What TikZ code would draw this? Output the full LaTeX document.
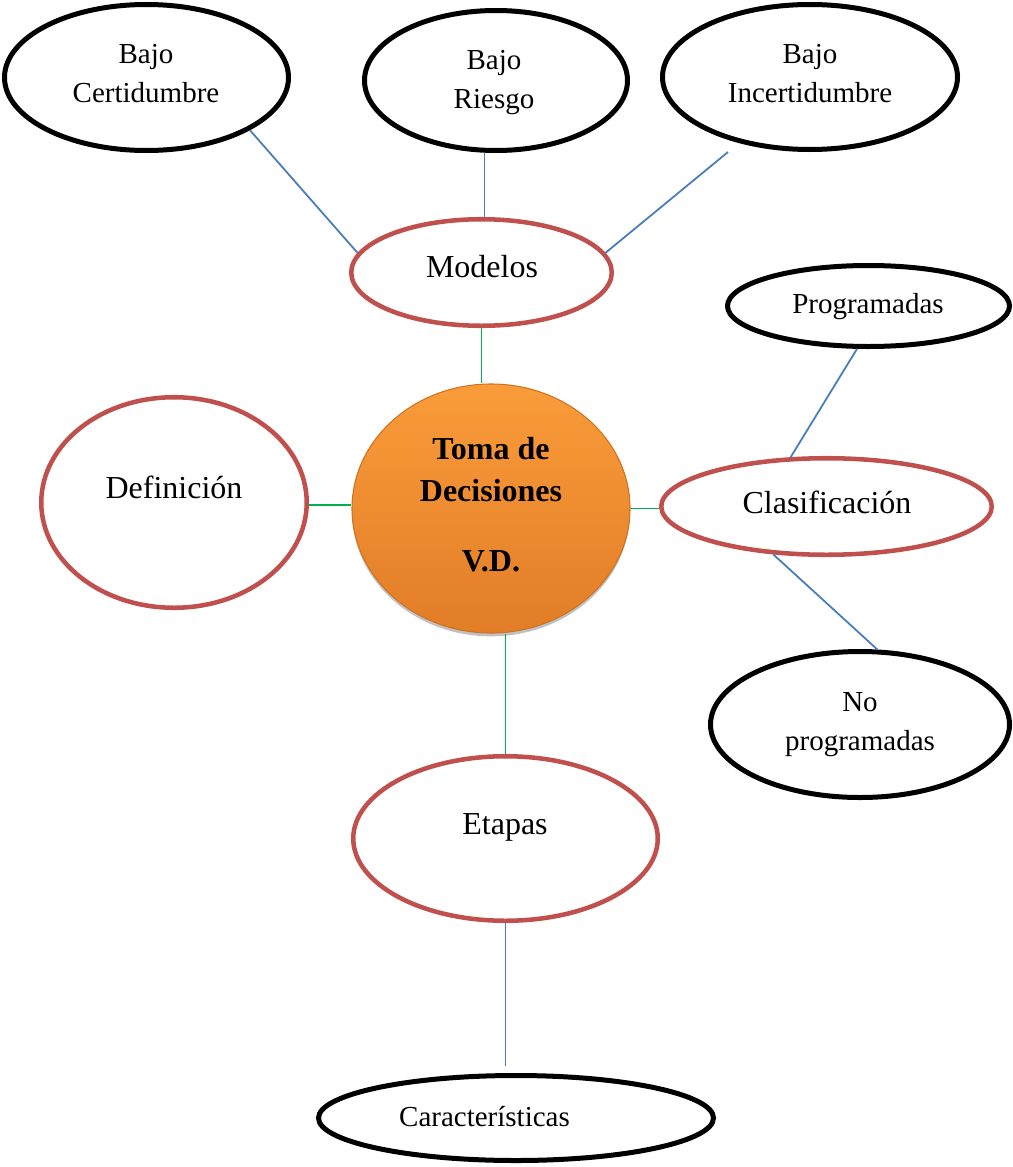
\documentclass[tikz,border=0pt]{standalone}
\usepackage{fontspec}
\setmainfont{Liberation Serif}
\usetikzlibrary{shapes.geometric,shadows}

\definecolor{ovalred}{HTML}{C0504D}
\definecolor{linkblue}{HTML}{4A7EBB}
\definecolor{linkgreen}{HTML}{00B050}
\definecolor{orangetop}{HTML}{FA9C3A}
\definecolor{orangebot}{HTML}{E27D27}
\definecolor{orangerim}{HTML}{CF7222}

\tikzset{
  blackoval/.style={ellipse, draw=black, line width=3.75pt, fill=white, inner sep=0pt},
  redoval/.style={ellipse, draw=ovalred, line width=3.4pt, fill=white, inner sep=0pt},
  smalltext/.style={font=\fontsize{21.75}{29}\selectfont, align=center, inner sep=0pt},
  bigtext/.style={font=\fontsize{24}{30}\selectfont, inner sep=0pt, anchor=base},
  bluelink/.style={draw=linkblue, line width=1.35pt},
  greenlink/.style={draw=linkgreen, line width=1.35pt},
  hub/.style={ellipse, inner sep=0pt, top color=orangetop, bottom color=orangebot,
    draw=orangerim, line width=0.8pt,
    drop shadow={shadow xshift=0pt, shadow yshift=-2.5pt, opacity=0.35, fill=black!70}},
}

\begin{document}
\begin{tikzpicture}[x=0.75pt,y=-0.75pt]
\useasboundingbox (0,0) rectangle (1013,1167);

% --- outer ring: the three models
\node[blackoval, minimum width=213pt, minimum height=109.5pt] (bc) at (146.5,77.5) {};
\node[smalltext] (bctext) at (146,73.6) {Bajo\\Certidumbre};

\node[blackoval, minimum width=197.25pt, minimum height=105pt] (br) at (496,80.5) {};
\node[smalltext] (brtext) at (494,82.3) {Bajo\\Riesgo};

\node[blackoval, minimum width=221.25pt, minimum height=108.75pt] (bi) at (810,77) {};
\node[smalltext] (bitext) at (810,73.6) {Bajo\\Incertidumbre};

% --- classification leaves
\node[blackoval, minimum width=211.5pt, minimum height=60.75pt] (prog) at (868.5,306) {};
\node[smalltext, anchor=base] (progtext) at (868,313.5) {Programadas};

\node[blackoval, minimum width=224.25pt, minimum height=109.5pt] (np) at (860,724.5) {};
\node[smalltext] (nptext) at (860,724.4) {No\\programadas};

% --- characteristics
\node[blackoval, minimum width=296.25pt, minimum height=63.75pt] (car) at (516,1118) {};
\node[smalltext, anchor=base] (cartext) at (484.5,1126.5) {Características};

% --- first-level topics
\node[redoval, minimum width=195.4pt, minimum height=79.9pt] (mod) at (481.5,272.5) {};
\node[bigtext] (modtext) at (482,277) {Modelos};

\node[redoval, minimum width=199.1pt, minimum height=157.9pt] (def) at (174,502.5) {};
\node[bigtext] (deftext) at (174,498) {Definición};

\node[redoval, minimum width=247.9pt, minimum height=72.4pt] (clas) at (826.5,506.5) {};
\node[bigtext] (clastext) at (827,513) {Clasificación};

\node[redoval, minimum width=228.4pt, minimum height=123.4pt] (et) at (505.5,838.5) {};
\node[bigtext] (ettext) at (505,834) {Etapas};

% --- central topic
\node[hub, minimum width=208.5pt, minimum height=186.75pt] (c) at (491,508.5) {};
\node[align=center, inner sep=0pt, font=\bfseries\fontsize{24}{31.5}\selectfont]
  (ctext) at (491,505) {Toma de\\Decisiones\\[21pt]V.D.};

% --- connectors
\coordinate (biend) at (728,152);
\draw[bluelink] (bc.-27) -- (mod.171);
\draw[bluelink] (br.-99) -- (br.-99 |- mod.north);
\draw[bluelink] (biend) -- (mod.9);
\draw[bluelink] (prog.-105) -- (clas.126);
\draw[bluelink] (clas.222) -- (np.77);
\draw[bluelink, shorten >=5pt] (et.south) -- (et.south |- car.north);

\draw[greenlink] (mod.south) -- (mod.south |- c.north);
\draw[greenlink] (def.-1.5) -- (def.-1.5 -| c.west);
\draw[greenlink] (c.east) -- (c.east -| clas.west);
\draw[greenlink] (et.north |- c.south) -- (et.north);
\end{tikzpicture}
\end{document}
